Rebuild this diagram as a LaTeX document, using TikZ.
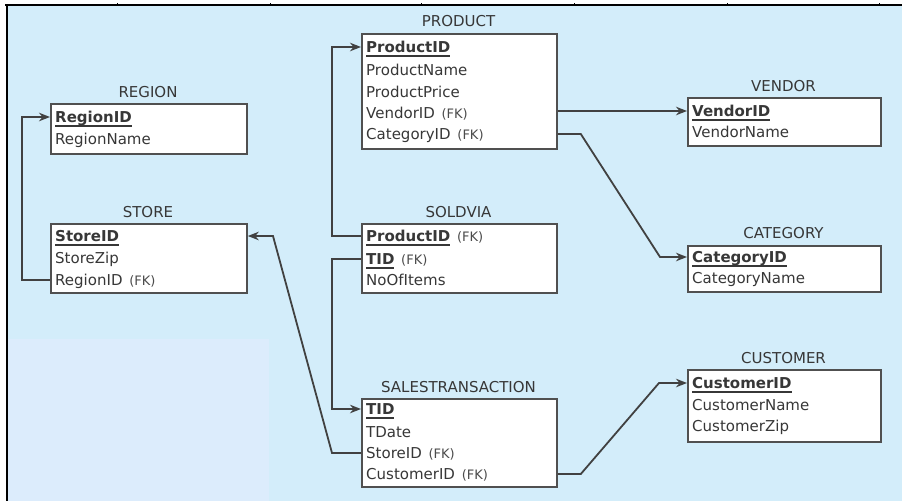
\documentclass[tikz,border=0pt]{standalone}
\usepackage{fontspec}
\setmainfont{DejaVu Sans}
\usetikzlibrary{arrows.meta}
\definecolor{bgblue}{RGB}{211,237,250}
\definecolor{bglight}{RGB}{220,236,252}
\definecolor{boxline}{RGB}{80,80,80}
\definecolor{txt}{RGB}{55,55,55}
\definecolor{fkgray}{RGB}{75,75,75}
\definecolor{connc}{RGB}{65,65,65}
\newcommand\ukey[1]{\setbox0\hbox{\bfseries #1}\rlap{\color{txt}\rule[-4.3pt]{\wd0}{1.7pt}}\box0}
\newcommand\fk{\hspace{0.45em}{\fontsize{13}{15}\selectfont\color{fkgray}(FK)}}
\begin{document}
\begin{tikzpicture}[x=1pt,y=-1pt,
  tbl/.style={draw=boxline, line width=1.8pt, fill=white, inner sep=0pt, anchor=north west},
  row/.style={anchor=west, inner sep=0pt, text height=10.8pt, text depth=0pt, font=\fontsize{15}{18}\selectfont, text=txt},
  ttl/.style={inner sep=0pt, text height=10.8pt, text depth=0pt, font=\fontsize{15}{18}\selectfont, text=txt},
  link/.style={draw=connc, line width=1.8pt, -{Stealth[length=11pt,width=8.5pt]}}
]
\useasboundingbox (0,0) rectangle (902,501);
% background and frame
\fill[bgblue] (7,5) rectangle (902,501);
\fill[bglight] (8,339) rectangle (269,501);
\draw[black, line width=1.7pt] (5,5) -- (902,5);
\draw[black, line width=2.3pt] (7,4.2) -- (7,501);
\foreach \tx in {117,270,421,574,727,879} \draw[black, line width=0.8pt] (\tx,3) -- (\tx,5);

% REGION
\node[ttl] (tRegion) at (148,92) {REGION};
\node[tbl, minimum width=196pt, minimum height=50pt] (region) at (50,103) {};
\node[row] (rRid) at (55,117) {\ukey{RegionID}};
\node[row] (rName) at (55,139) {RegionName};

% STORE
\node[ttl] (tStore) at (148,212) {STORE};
\node[tbl, minimum width=196pt, minimum height=69pt] (store) at (50,223) {};
\node[row] (sSid) at (55,236) {\ukey{StoreID}};
\node[row] (sZip) at (55,258) {StoreZip};
\node[row] (sReg) at (55,280) {RegionID\fk};

% PRODUCT
\node[ttl] (tProduct) at (458.5,21) {PRODUCT};
\node[tbl, minimum width=195pt, minimum height=115pt] (product) at (361,33) {};
\node[row] (pPid) at (366,47) {\ukey{ProductID}};
\node[row] (pName) at (366,70) {ProductName};
\node[row] (pPrice) at (366,92) {ProductPrice};
\node[row] (pVid) at (366,113) {VendorID\fk};
\node[row] (pCat) at (366,134) {CategoryID\fk};

% SOLDVIA
\node[ttl] (tSoldvia) at (458.5,212) {SOLDVIA};
\node[tbl, minimum width=195pt, minimum height=69pt] (soldvia) at (361,223) {};
\node[row] (dPid) at (366,236) {\ukey{ProductID}\fk};
\node[row] (dTid) at (366,259) {\ukey{TID}\fk};
\node[row] (dNo) at (366,280) {NoOfItems};

% SALESTRANSACTION
\node[ttl] (tSales) at (458.5,387) {SALESTRANSACTION};
\node[tbl, minimum width=195pt, minimum height=88pt] (sales) at (361,398) {};
\node[row] (tTid) at (366,409) {\ukey{TID}};
\node[row] (tDate) at (366,432) {TDate};
\node[row] (tStoreId) at (366,453) {StoreID\fk};
\node[row] (tCust) at (366,474) {CustomerID\fk};

% VENDOR
\node[ttl] (tVendor) at (783.5,86) {VENDOR};
\node[tbl, minimum width=193pt, minimum height=48pt] (vendor) at (687,97) {};
\node[row] (vVid) at (692,111) {\ukey{VendorID}};
\node[row] (vName) at (692,132) {VendorName};

% CATEGORY
\node[ttl] (tCategory) at (783.5,233) {CATEGORY};
\node[tbl, minimum width=193pt, minimum height=46pt] (category) at (687,245) {};
\node[row] (cCid) at (692,257) {\ukey{CategoryID}};
\node[row] (cName) at (692,278) {CategoryName};

% CUSTOMER
\node[ttl] (tCustomer) at (783.5,358) {CUSTOMER};
\node[tbl, minimum width=193pt, minimum height=72pt] (customer) at (687,369) {};
\node[row] (uCid) at (692,383) {\ukey{CustomerID}};
\node[row] (uName) at (692,405) {CustomerName};
\node[row] (uZip) at (692,426) {CustomerZip};

% bend points
\coordinate (sbend) at (273,0);
\coordinate (cbend) at (660,0);
\coordinate (ubend) at (659,0);

% connectors
\draw[link] (sReg.west -| store.west) -- ++(-28,0) |- (rRid.west -| region.west);
\draw[link] (dPid.west -| soldvia.west) -- ++(-29,0) |- (pPid.west -| product.west);
\draw[link] (dTid.west -| soldvia.west) -- ++(-29,0) |- (tTid.west -| sales.west);
\draw[link] (tStoreId.west -| sales.west) -- ++(-29,0) -- (sbend |- sSid.west) -- (sSid.west -| store.east);
\draw[link] (product.east |- vVid.west) -- (vVid.west -| vendor.west);
\draw[link] (pCat.west -| product.east) -- ++(23,0) -- (cbend |- cCid.west) -- (cCid.west -| category.west);
\draw[link] (tCust.west -| sales.east) -- ++(23,0) -- (ubend |- uCid.west) -- (uCid.west -| customer.west);
\end{tikzpicture}
\end{document}
